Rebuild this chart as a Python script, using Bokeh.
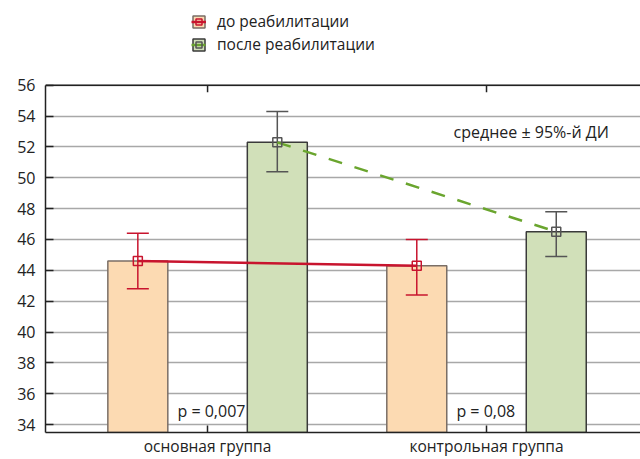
from bokeh.plotting import figure
from bokeh.models import (Range1d, FixedTicker, Legend, LegendItem, Label, Span)
from bokeh.embed import file_html
from bokeh.resources import INLINE

# ---- data ----
categories = ["основная группа", "контрольная группа"]
series = ["до реабилитации", "после реабилитации"]
before_mean = [44.6, 44.3]
before_lower = [42.8, 42.4]
before_upper = [46.4, 46.0]
after_mean = [52.3, 46.5]
after_lower = [50.4, 44.9]
after_upper = [54.3, 47.8]
y_ticks = [34, 36, 38, 40, 42, 44, 46, 48, 50, 52, 54, 56]
p_labels = ["p = 0,007", "p = 0,08"]
note = "среднее ± 95%-й ДИ"

# ---- style ----
FONT = "Open Sans"
TXT = "#222222"
AX = "#222222"
ORANGE_FILL = "#fcdab2"
ORANGE_EDGE = "#7a6e66"
GREEN_FILL = "#d1e0b9"
GREEN_EDGE = "#3a3a3a"
RED = "#c8142e"
GREEN_LINE = "#6aa52e"
GRAY = "#555555"

cat_x = [i + 1 for i in range(len(categories))]
offset = 0.25
bar_w = 0.215
y_max = y_ticks[-1]
px_per_unit = 15.4545
y_bottom = 33.482
y_top = 61.5          # frame reaches the top of the canvas so the legend fits in it
x_start, x_end = 0.419, 2.552

bx = [c - offset for c in cat_x]
ax = [c + offset for c in cat_x]

p = figure(width=640, height=459, output_backend="svg", toolbar_location=None,
           x_range=Range1d(x_start, x_end), y_range=Range1d(y_bottom, y_top),
           min_border_left=45, min_border_right=0, min_border_top=0,
           min_border_bottom=24, outline_line_color=None)

# grid
p.xgrid.visible = False
p.ygrid.ticker = FixedTicker(ticks=y_ticks)
p.ygrid.grid_line_color = "#a8a8a8"
p.ygrid.grid_line_width = 1.5

# bars
bars_b = p.vbar(x=bx, top=before_mean, bottom=y_bottom, width=bar_w,
                fill_color=ORANGE_FILL, line_color=ORANGE_EDGE, line_width=1.5)
bars_a = p.vbar(x=ax, top=after_mean, bottom=y_bottom, width=bar_w,
                fill_color=GREEN_FILL, line_color=GREEN_EDGE, line_width=1.5)

# error bars
p.segment(x0=bx, y0=before_lower, x1=bx, y1=before_upper, line_color=RED, line_width=1.5)
p.scatter(x=bx + bx, y=before_lower + before_upper, marker="dash", size=22,
          line_color=RED, line_width=1.5)
p.segment(x0=ax, y0=after_lower, x1=ax, y1=after_upper, line_color=GRAY, line_width=1.5)
p.scatter(x=ax + ax, y=after_lower + after_upper, marker="dash", size=22,
          line_color=GRAY, line_width=1.5)

# connecting lines
line_b = p.line(x=bx, y=before_mean, line_color=RED, line_width=2.5)
line_a = p.line(x=ax, y=after_mean, line_color=GREEN_LINE, line_width=2.5, line_dash="14 13")

# mean markers
mk_b = p.scatter(x=bx, y=before_mean, marker="square", size=9, fill_color=None,
                 line_color=RED, line_width=1.5)
mk_a = p.scatter(x=ax, y=after_mean, marker="square", size=9, fill_color=None,
                 line_color=GRAY, line_width=1.5)

# top border of the plot box with inward category ticks
p.add_layout(Span(location=y_max, dimension="width", line_color=AX, line_width=1.5))
tick_len = 7 / px_per_unit
p.segment(x0=cat_x, x1=cat_x, y0=[y_max] * len(cat_x), y1=[y_max - tick_len] * len(cat_x),
          line_color=AX, line_width=1.5)

# y axis
p.yaxis.ticker = FixedTicker(ticks=y_ticks)
p.yaxis.bounds = (y_bottom, y_max)
p.yaxis.major_tick_in = 8
p.yaxis.major_tick_out = 0
p.yaxis.minor_tick_line_color = None
p.yaxis.axis_line_width = 1.5
p.yaxis.major_tick_line_width = 1.5
p.yaxis.axis_line_color = AX
p.yaxis.major_tick_line_color = AX
p.yaxis.major_label_text_font = FONT
p.yaxis.major_label_text_font_size = "16px"
p.yaxis.major_label_text_color = TXT
p.yaxis.major_label_standoff = 10

# x axis
p.xaxis.ticker = FixedTicker(ticks=cat_x)
p.xaxis.major_label_overrides = {c: name for c, name in zip(cat_x, categories)}
p.xaxis.major_tick_in = 7
p.xaxis.major_tick_out = 0
p.xaxis.minor_tick_line_color = None
p.xaxis.axis_line_width = 1.5
p.xaxis.major_tick_line_width = 1.5
p.xaxis.axis_line_color = AX
p.xaxis.major_tick_line_color = AX
p.xaxis.major_label_text_font = FONT
p.xaxis.major_label_text_font_size = "15.5px"
p.xaxis.major_label_text_color = TXT
p.xaxis.major_label_standoff = 2

# annotations
for c, txt in zip(cat_x, p_labels):
    p.add_layout(Label(x=c - 0.108, y=34.85, text=txt, text_font=FONT, text_font_size="16px",
                       text_color=TXT, text_baseline="middle", text_align="left"))
p.add_layout(Label(x=1.882, y=52.96, text=note, text_font=FONT, text_font_size="16px",
                   text_color=TXT, text_baseline="middle", text_align="left"))

# legend (location = bottom-left corner, in frame pixels)
legend = Legend(items=[LegendItem(label=series[0], renderers=[bars_b, line_b, mk_b]),
                       LegendItem(label=series[1], renderers=[bars_a, line_a, mk_a])],
                location=(146, 377), orientation="vertical", padding=0, margin=0,
                spacing=1, glyph_width=15, glyph_height=15, label_height=18,
                label_standoff=11, border_line_color=None, background_fill_alpha=0,
                label_text_font=FONT, label_text_font_size="15.5px", label_text_color=TXT)
p.add_layout(legend, "center")

open("out.html", "w").write(file_html(p, INLINE))
